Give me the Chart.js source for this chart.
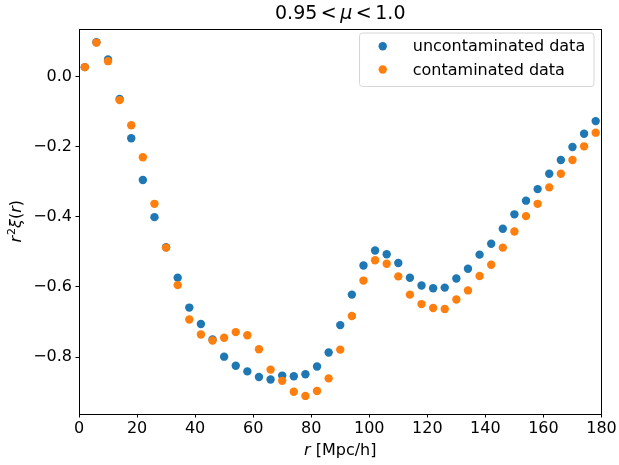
<!DOCTYPE html>
<html>
<head>
<meta charset="utf-8">
<script src="https://cdn.jsdelivr.net/npm/chart.js@4"></script>
<style>
  html, body { margin: 0; padding: 0; background: #fff; }
  #wrap { width: 619px; height: 465px; }
</style>
</head>
<body>
<div id="wrap"><canvas id="chart" width="619" height="465"></canvas></div>
<script>
// ── Data ─────────────────────────────────
const rValues = [2, 6, 10, 14, 18, 22, 26, 30, 34, 38, 42, 46, 50, 54, 58, 62, 66, 70, 74, 78, 82, 86, 90,
                 94, 98, 102, 106, 110, 114, 118, 122, 126, 130, 134, 138, 142, 146, 150, 154, 158, 162,
                 166, 170, 174, 178];

const uncontaminated = [0.027, 0.098, 0.049, -0.064, -0.176, -0.295, -0.401, -0.487, -0.574, -0.659,
                        -0.706, -0.750, -0.799, -0.825, -0.841, -0.857, -0.864, -0.853, -0.855, -0.849,
                        -0.827, -0.787, -0.709, -0.622, -0.539, -0.496, -0.507, -0.532, -0.574, -0.596,
                        -0.604, -0.602, -0.576, -0.548, -0.508, -0.477, -0.434, -0.393, -0.354, -0.321,
                        -0.277, -0.238, -0.201, -0.163, -0.127];

const contaminated = [0.027, 0.097, 0.044, -0.067, -0.139, -0.230, -0.363, -0.488, -0.595, -0.693,
                      -0.736, -0.753, -0.745, -0.729, -0.738, -0.778, -0.836, -0.868, -0.899, -0.911,
                      -0.897, -0.861, -0.779, -0.683, -0.582, -0.524, -0.534, -0.570, -0.622, -0.649,
                      -0.660, -0.663, -0.636, -0.610, -0.569, -0.537, -0.488, -0.442, -0.398, -0.363,
                      -0.316, -0.277, -0.238, -0.199, -0.160];

const xTicks = [0, 20, 40, 60, 80, 100, 120, 140, 160, 180];
const yTicks = [-0.8, -0.6, -0.4, -0.2, 0.0];

const seriesLabels = ["uncontaminated data", "contaminated data"];
const seriesColors = ["#1f77b4", "#ff7f0e"];

// ── Text helpers ─────────────────────────
const FONT = '"DejaVu Sans"';
const up = s => `${s}px ${FONT}`;
const it = s => `italic ${s}px ${FONT}`;

// draw a run of mixed-style text, centred on (x, y)
function drawRich(ctx, parts, x, y, rot) {
  ctx.save();
  ctx.translate(x, y);
  if (rot) ctx.rotate(rot);
  ctx.textBaseline = "alphabetic";
  ctx.textAlign = "left";
  ctx.fillStyle = "#000";
  let total = 0;
  parts.forEach(p => { ctx.font = p.font; p.w = ctx.measureText(p.t).width; total += p.w + (p.gap || 0); });
  let cx = -total / 2;
  parts.forEach(p => {
    ctx.font = p.font;
    ctx.fillText(p.t, cx, 6 + (p.dy || 0));
    cx += p.w + (p.gap || 0);
  });
  ctx.restore();
}

const fmtY = v => (v < 0 ? "\u2212" : "") + Math.abs(v).toFixed(1);

// ── Frame, labels and legend ─────────────
const decorPlugin = {
  id: "decor",
  afterDraw(chart) {
    const { ctx, chartArea: a } = chart;

    // four spines
    ctx.save();
    ctx.strokeStyle = "#000";
    ctx.lineWidth = 1;
    ctx.strokeRect(Math.round(a.left) + 0.5, Math.round(a.top) + 0.5,
                   Math.round(a.right - a.left) - 1, Math.round(a.bottom - a.top) - 1);
    ctx.restore();

    const midX = (a.left + a.right) / 2;
    const midY = (a.top + a.bottom) / 2;

    // title  0.95 < μ < 1.0
    drawRich(ctx, [
      { t: "0.95", font: up(19), gap: 3.5 },
      { t: "<", font: up(19), gap: 3.5 },
      { t: "μ", font: it(19), gap: 3.5 },
      { t: "<", font: up(19), gap: 3.5 },
      { t: "1.0", font: up(19) },
    ], midX, 13);

    // x label  r [Mpc/h]
    drawRich(ctx, [
      { t: "r", font: it(16) },
      { t: " [Mpc/h]", font: up(16) },
    ], midX, 449);

    // y label  r²ξ(r)
    drawRich(ctx, [
      { t: "r", font: it(16), gap: 1 },
      { t: "2", font: up(11), dy: -6 },
      { t: "ξ", font: it(16) },
      { t: "(", font: up(16) },
      { t: "r", font: it(16) },
      { t: ")", font: up(16) },
    ], 15, midY, -Math.PI / 2);

    // legend (upper right)
    ctx.save();
    ctx.font = up(16);
    const textW = Math.max(...seriesLabels.map(s => ctx.measureText(s).width));
    const bw = 54 + textW + 8, bh = 53.5;
    const bx = a.right - 8 - bw, by = a.top + 4;
    ctx.beginPath();
    ctx.roundRect(bx + 0.5, by + 0.5, bw, bh, 3);
    ctx.fillStyle = "rgba(255,255,255,0.8)";
    ctx.fill();
    ctx.strokeStyle = "#d6d6d6";
    ctx.lineWidth = 1;
    ctx.stroke();
    seriesLabels.forEach((lab, i) => {
      const yy = by + 13.7 + i * 23.3;
      ctx.beginPath();
      ctx.arc(bx + 23.7, yy, 4.2, 0, Math.PI * 2);
      ctx.fillStyle = seriesColors[i];
      ctx.fill();
      ctx.fillStyle = "#000";
      ctx.textBaseline = "middle";
      ctx.fillText(lab, bx + 53.7, yy + 1);
    });
    ctx.restore();
  }
};

// ── Chart ────────────────────────────────
const toPoints = ys => rValues.map((r, i) => ({ x: r, y: ys[i] }));

new Chart(document.getElementById("chart"), {
  type: "scatter",
  data: {
    datasets: [
      { label: seriesLabels[0], data: toPoints(uncontaminated), backgroundColor: seriesColors[0],
        pointRadius: 4.2, borderWidth: 0, order: 1 },
      { label: seriesLabels[1], data: toPoints(contaminated), backgroundColor: seriesColors[1],
        pointRadius: 4.2, borderWidth: 0, order: 0 },
    ]
  },
  options: {
    responsive: false,
    animation: false,
    events: [],
    layout: { padding: { left: 0, right: 17.5, top: 28.5, bottom: 0 } },
    plugins: { legend: { display: false }, tooltip: { enabled: false }, title: { display: false } },
    scales: {
      x: {
        type: "linear", min: 0, max: 180,
        afterBuildTicks: s => { s.ticks = xTicks.map(v => ({ value: v })); },
        afterFit: s => { s.height = 51; },
        grid: { drawOnChartArea: false, drawTicks: true, tickLength: 3.5, color: "#000", lineWidth: 1 },
        border: { display: false },
        ticks: { font: { family: "DejaVu Sans", size: 16 }, color: "#000", padding: 2, maxRotation: 0,
                 callback: v => String(v) }
      },
      y: {
        type: "linear", min: -0.9626, max: 0.1372,
        afterBuildTicks: s => { s.ticks = yTicks.map(v => ({ value: v })); },
        afterFit: s => { s.width = 79; },
        grid: { drawOnChartArea: false, drawTicks: true, tickLength: 3.5, color: "#000", lineWidth: 1 },
        border: { display: false },
        ticks: { font: { family: "DejaVu Sans", size: 16 }, color: "#000", padding: 3.5,
                 callback: v => fmtY(v) }
      }
    }
  },
  plugins: [decorPlugin]
});
</script>
</body>
</html>
